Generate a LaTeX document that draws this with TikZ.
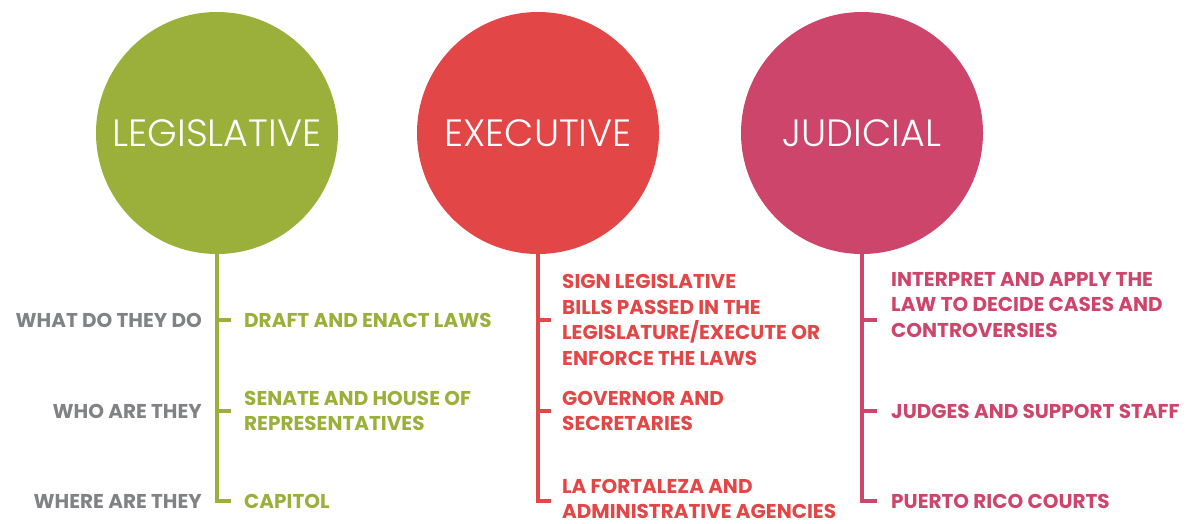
\documentclass[tikz,border=0pt]{standalone}
\usepackage{fontspec}
\setmainfont{Poppins}
\newfontfamily\thinfont{Poppins Light}
\usetikzlibrary{positioning}

\definecolor{legis}{RGB}{154,176,58}
\definecolor{execu}{RGB}{226,70,70}
\definecolor{judic}{RGB}{206,69,107}
\definecolor{asktext}{RGB}{128,130,133}

\tikzset{
  branch/.style={circle, fill=#1, minimum size=242pt, inner sep=0pt,
    text=white, font=\thinfont\fontsize{38}{38}\selectfont},
  stem/.style={draw=#1, line width=4pt, line join=miter},
  answer/.style={text=#1, font=\bfseries\fontsize{20}{25.5}\selectfont,
    align=left, anchor=west, inner sep=0pt},
  question/.style={text=asktext, font=\bfseries\fontsize{20}{25.5}\selectfont,
    anchor=east, inner sep=0pt}
}

\begin{document}
\begin{tikzpicture}[x=1pt, y=-1pt]
    \useasboundingbox (0,0) rectangle (1190,523);

    % the three branches
    \node [branch=legis] (leg) at (217,133) {LEGISLATIVE};
    \node [branch=execu] (exe) at (538,133) {EXECUTIVE};
    \node [branch=judic] (jud) at (862,133) {JUDICIAL};

    % points on the stems
    \coordinate (ls1) at (217,320);
    \coordinate (ls2) at (217,411);
    \coordinate (ls3) at (217,501);
    \coordinate (es1) at (538,320);
    \coordinate (es2) at (538,411);
    \coordinate (es3) at (538,501);
    \coordinate (js1) at (862,320);
    \coordinate (js2) at (862,411);
    \coordinate (js3) at (862,501);

    % ends of the ticks
    \coordinate (lt1) at (231,320);
    \coordinate (lt2) at (231,411);
    \coordinate (lt3) at (231,501);
    \coordinate (et1) at (551,320);
    \coordinate (et2) at (551,411);
    \coordinate (et3) at (551,501);
    \coordinate (jt1) at (877,320);
    \coordinate (jt2) at (877,411);
    \coordinate (jt3) at (877,501);

    % draw stems
    \draw [stem=legis] (leg.south) |- (lt3);
    \draw [stem=legis] (ls1) -- (lt1);
    \draw [stem=legis] (ls2) -- (lt2);
    \draw [stem=execu] (exe.south) |- (et3);
    \draw [stem=execu] (es1) -- (et1);
    \draw [stem=execu] (es2) -- (et2);
    \draw [stem=judic] (jud.south) |- (jt3);
    \draw [stem=judic] (js1) -- (jt1);
    \draw [stem=judic] (js2) -- (jt2);

    % questions
    \node [question, left=15pt of ls1] (what) {WHAT DO THEY DO};
    \node [question, left=15pt of ls2] (who) {WHO ARE THEY};
    \node [question, left=15pt of ls3] (where) {WHERE ARE THEY};

    % add labels
    \node [answer=legis, right=13pt of lt1] (legwhat) {DRAFT AND ENACT LAWS};
    \node [answer=legis, right=13pt of lt2] (legwho) {SENATE AND HOUSE OF\\REPRESENTATIVES};
    \node [answer=legis, right=13pt of lt3] (legwhere) {CAPITOL};
    \node [answer=execu, right=11pt of et1] (exewhat) {SIGN LEGISLATIVE\\BILLS PASSED IN THE\\LEGISLATURE/EXECUTE OR\\ENFORCE THE LAWS};
    \node [answer=execu, right=11pt of et2] (exewho) {GOVERNOR AND\\SECRETARIES};
    \node [answer=execu, right=11pt of et3, yshift=2pt] (exewhere) {LA FORTALEZA AND\\ADMINISTRATIVE AGENCIES};
    \node [answer=judic, right=14pt of jt1, yshift=15pt] (judwhat) {INTERPRET AND APPLY THE\\LAW TO DECIDE CASES AND\\CONTROVERSIES};
    \node [answer=judic, right=14pt of jt2] (judwho) {JUDGES AND SUPPORT STAFF};
    \node [answer=judic, right=14pt of jt3] (judwhere) {PUERTO RICO COURTS};
\end{tikzpicture}
\end{document}
